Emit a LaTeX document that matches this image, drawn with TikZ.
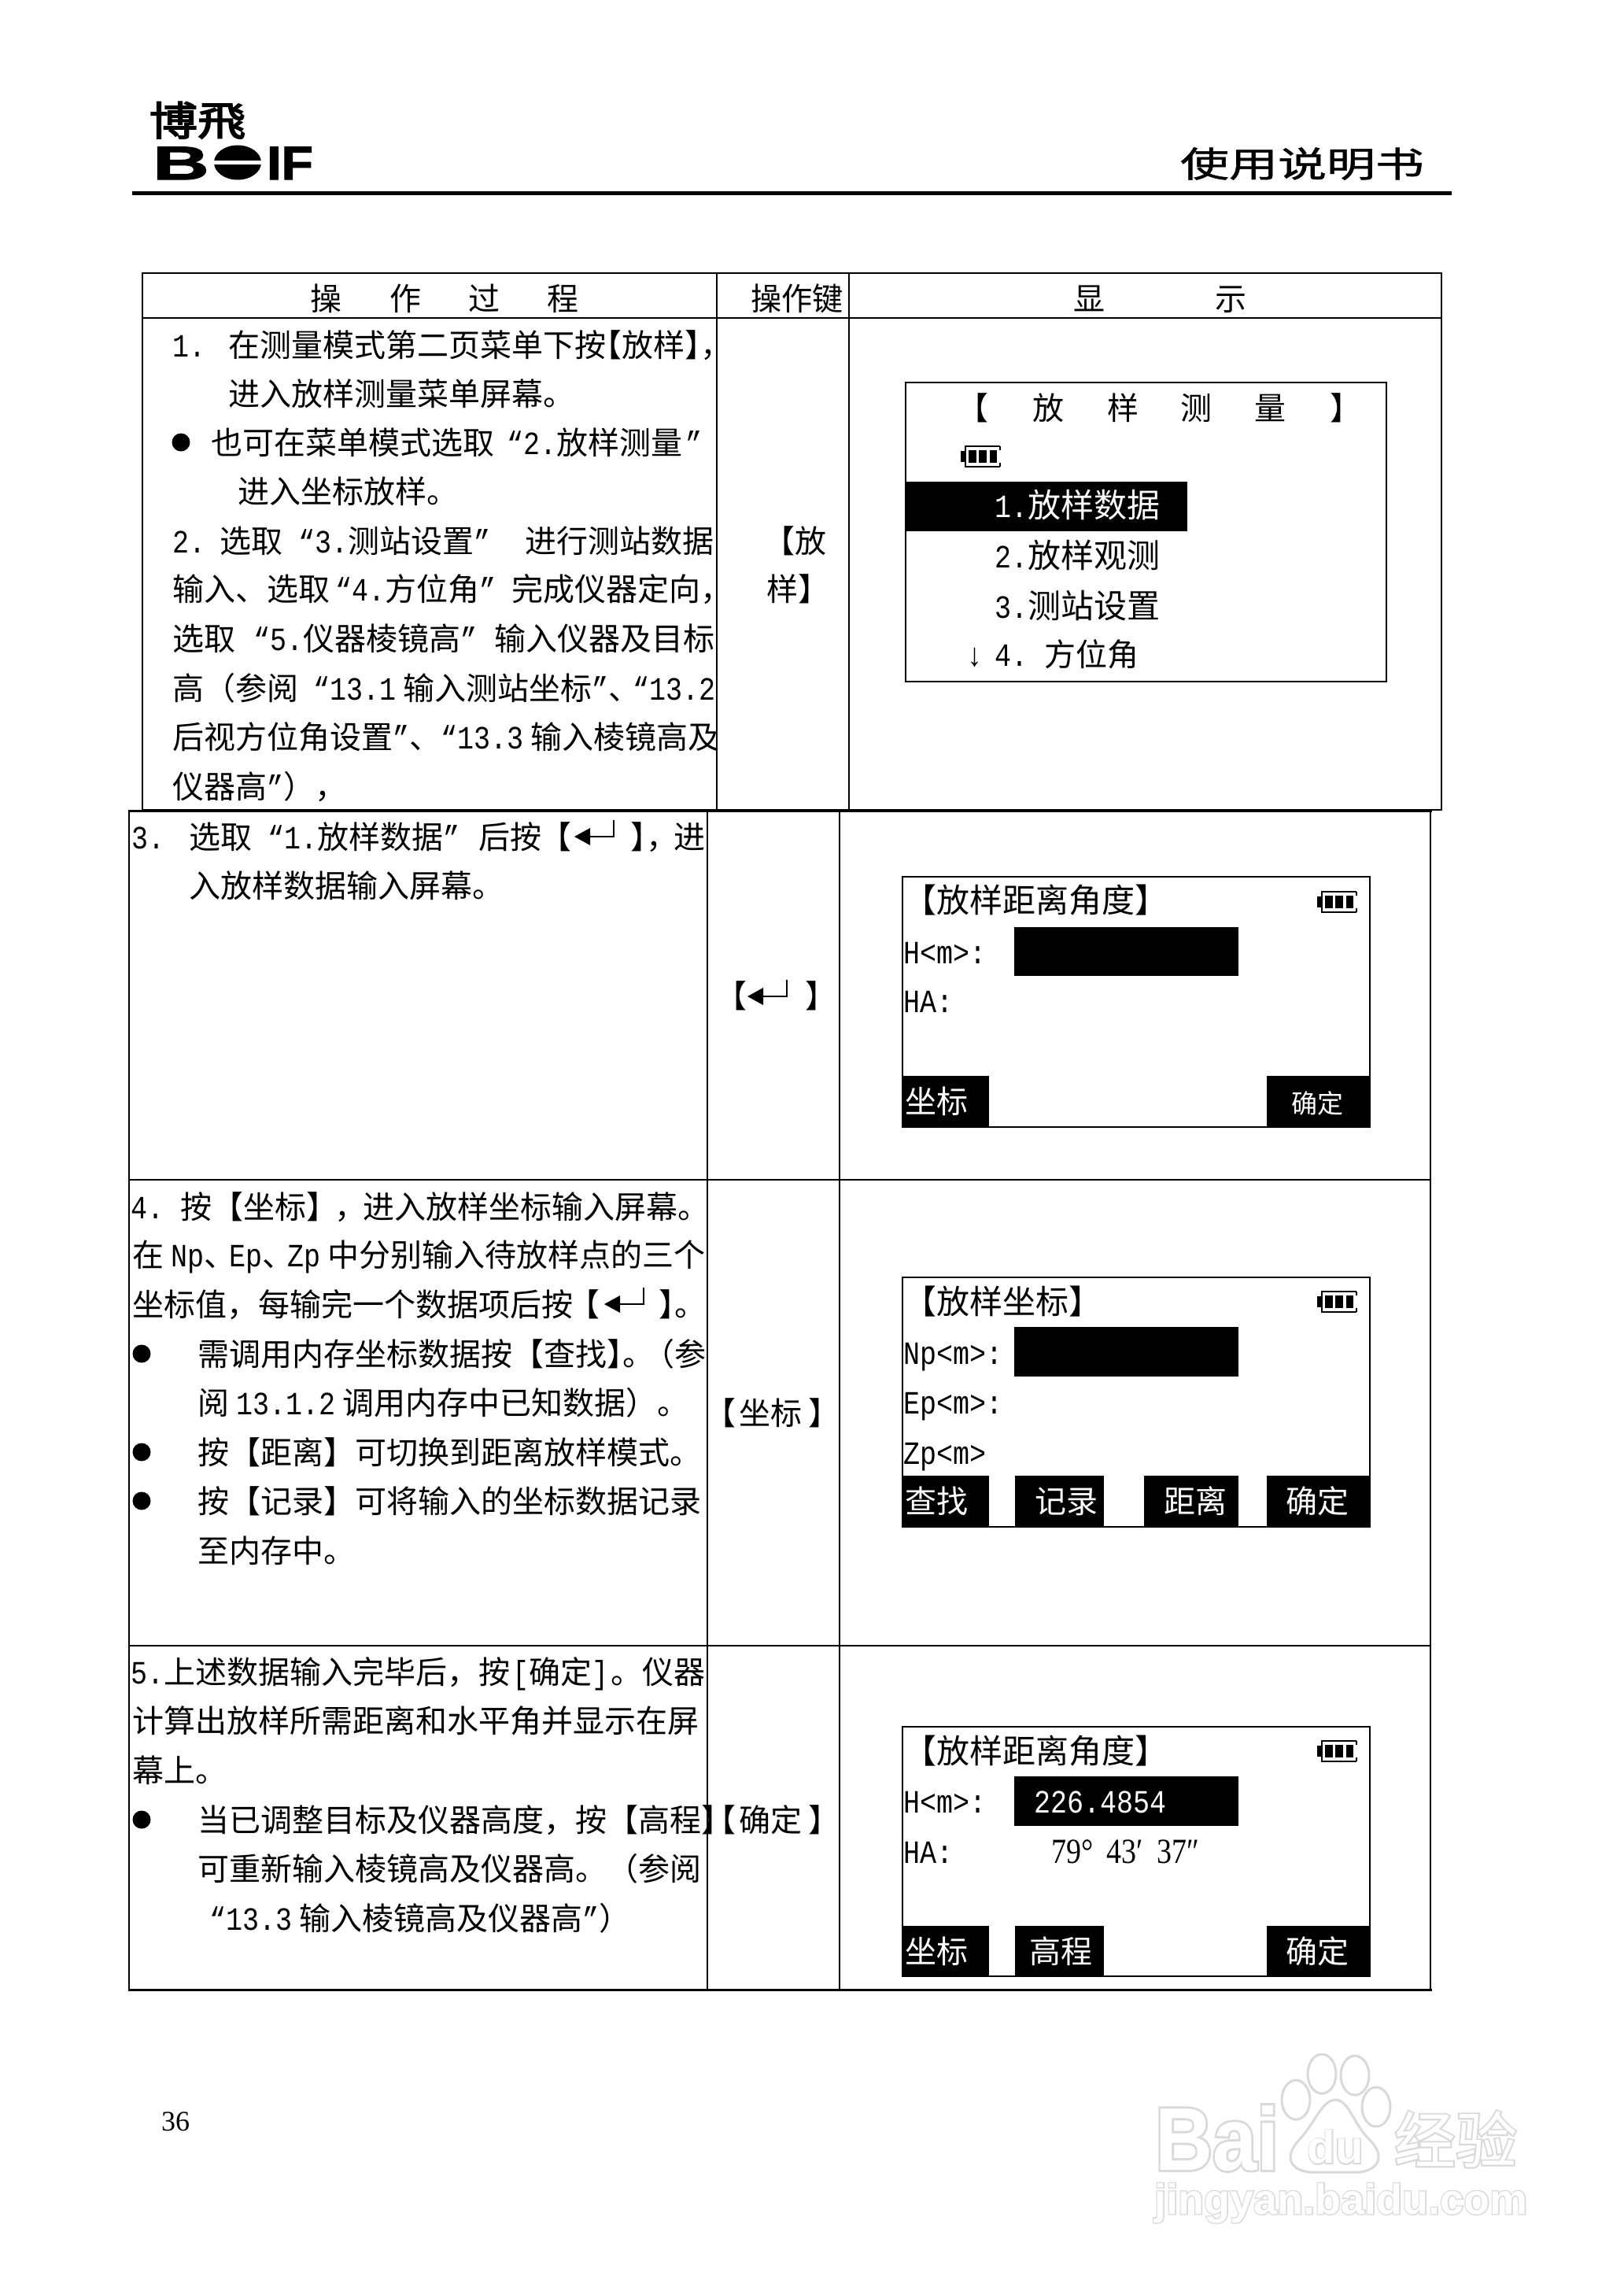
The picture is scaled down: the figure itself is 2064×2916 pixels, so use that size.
\documentclass[tikz,border=0pt]{standalone}
\usepackage{fontspec}
\setmainfont{Noto Sans CJK SC}
\newfontfamily\monofam{Liberation Mono}
\newfontfamily\romanfam{Liberation Serif}
\newfontfamily\sansfam{Liberation Sans}[BoldFeatures={FakeBold=2}]
\newfontfamily\cnheavy{Noto Sans CJK SC}[FakeBold=3]
\newfontfamily\cnmed{Noto Sans CJK SC}[FakeBold=1]
\newfontfamily\wmfam{Liberation Sans}[BoldFeatures={FakeBold=5}]
\newfontfamily\wmcn{Noto Sans CJK SC}[FakeBold=5]
\newfontfamily\wmfamw{Liberation Sans}
\newfontfamily\wmcnw{Noto Sans CJK SC}
\newcommand{\lat}[1]{{\fontsize{35}{35}\selectfont\monofam\scalebox{1}[1.18]{#1}}}
\tikzset{
  cn/.style={anchor=base west,inner sep=0pt,yshift=-15pt,font=\fontsize{40}{40}\selectfont},
  cnc/.style={anchor=base,inner sep=0pt,yshift=-15pt,font=\fontsize{40}{40}\selectfont},
  wcn/.style={cnc,text=white},
  tabline/.style={line width=2.2pt,line cap=rect},
  thickline/.style={line width=3pt,line cap=rect},
  screen/.style={draw,line width=2.2pt,anchor=north west,inner sep=0pt},
  blackbar/.style={fill=black,anchor=north west,inner sep=0pt},
  bull/.style={circle,fill=black,inner sep=0pt,minimum size=23pt},
  wmark/.style={text=black!15},
  wmpad/.style={draw=black!15,fill=white,line width=3pt},
  battery/.pic={
    \fill (0,-7) rectangle (5.5,7);
    \draw[line width=1.6pt] (50,-13) -- (6,-13) -- (6,13) -- (50,13);
    \draw[line width=1.6pt] (50,-13) -- (50,-8) (50,8) -- (50,13);
    \fill (10,-8) rectangle (20,8);
    \fill (23,-8) rectangle (33,8);
    \fill (37,-8) rectangle (46,8);
  },
  enterkey/.pic={
    \fill (0,0) -- (20,-11) -- (20,11) -- cycle;
    \draw[line width=2pt] (20,0) -- (50,0) -- (50,-21);
  }
}
\begin{document}
\begin{tikzpicture}[x=1pt,y=-1pt]
\useasboundingbox (0,0) rectangle (2064,2916);

\node[inner sep=0pt,font=\fontsize{60}{60}\selectfont\cnheavy] (logocn) at (251,153) {\scalebox{1.02}[.85]{博飛}};
\node[anchor=base west,inner sep=0pt,font=\fontsize{60}{60}\selectfont\sansfam\bfseries] (logob) at (194,228) {\scalebox{1.65}[1]{B}};
\fill (302,206.5) ellipse (30 and 22);
\fill[white] (270,203.5) rectangle (334,208.5);
\node[anchor=base west,inner sep=0pt,font=\fontsize{60}{60}\selectfont\sansfam\bfseries] (logoif) at (339,228) {\scalebox{1.1}[1]{IF}};
\node[inner sep=0pt,font=\fontsize{62}{62}\selectfont\cnmed] (manual) at (1655,208) {\scalebox{1}[.72]{使用说明书}};
\draw[line width=5pt] (168,245) -- (1845,245);

\draw[tabline] (181,347) rectangle (1832,1029);
\draw[tabline] (181,404) -- (1832,404);
\draw[tabline] (911,347) -- (911,1029);
\draw[tabline] (1079,347) -- (1079,1029);
\draw[thickline] (164,1030) -- (1818,1030);
\draw[tabline] (164,1030) -- (164,2528);
\draw[tabline] (1818,1030) -- (1818,2528);
\draw[tabline] (899,1030) -- (899,2528);
\draw[tabline] (1067,1030) -- (1067,2528);
\draw[tabline] (164,1499) -- (1818,1499);
\draw[tabline] (164,2091) -- (1818,2091);
\draw[thickline] (164,2528) -- (1818,2528);

\node[cnc] (heada) at (414,379) {操};
\node[cnc] (headb) at (515,379) {作};
\node[cnc] (headc) at (615,379) {过};
\node[cnc] (headd) at (715,379) {程};
\node[cnc] (heade) at (1013,379) {\scalebox{.98}[1]{操作键}};
\node[cnc] (headf) at (1384,379) {显};
\node[cnc] (headg) at (1564,379) {示};

\node[cn] (la) at (219,438) {\lat{1.}};
\node[cn] (lb) at (290,438) {在测量模式第二页菜单下按\hspace{-20pt}【放样】\hspace{-20pt}，};
\node[cn] (lc) at (290,500) {进入放样测量菜单屏幕。};
\node[bull] (bulla) at (230,562) {};
\node[cn] (ld) at (268,562) {也可在菜单模式选取\hspace{16pt}\lat{“2.}放样测量\hspace{4pt}\lat{”}};
\node[cn] (le) at (302,624) {进入坐标放样。};
\node[cn] (lf) at (219,687) {\lat{2.}};
\node[cn] (lg) at (279,687) {选取\hspace{20pt}\lat{“3.}测站设置\lat{”}};
\node[cn] (lh) at (667,687) {进行测站数据};
\node[cn] (li) at (219,748) {输入、选取\hspace{7pt}\lat{“4.}方位角\lat{”}\hspace{20pt}完成仪器定向，};
\node[cn] (lj) at (219,811) {选取\hspace{23pt}\lat{“5.}仪器棱镜高\lat{”}\hspace{22pt}输入仪器及目标};
\node[cn] (lk) at (219,874) {高（参阅\hspace{19pt}\lat{“13.1} 输入测站坐标\lat{”}、\hspace{-9pt}\lat{“13.2}};
\node[cn] (ll) at (219,936) {后视方位角设置\lat{”}、\lat{“13.3} 输入棱镜高及};
\node[cn] (lm) at (219,999) {仪器高\lat{”}），};
\node[cn] (keya) at (970,687) {【放};
\node[cn] (keyb) at (974,748) {样】};

\node[screen,minimum width=611pt,minimum height=380pt] (scra) at (1150,485) {};
\node[cnc] (ta) at (1236,518) {【};
\node[cnc] (tb) at (1332,518) {放};
\node[cnc] (tc) at (1427,518) {样};
\node[cnc] (td) at (1520,518) {测};
\node[cnc] (te) at (1614,518) {量};
\node[cnc] (tf) at (1710,518) {】};
\pic at (1221,580) {battery};
\node[blackbar,minimum width=357pt,minimum height=63pt] (hl) at (1152,612) {};
\node[cn,text=white,font=\fontsize{42}{42}\selectfont] (ma) at (1264,642) {\lat{1.}放样数据};
\node[cn,font=\fontsize{42}{42}\selectfont] (mb) at (1264,706) {\lat{2.}放样观测};
\node[cn,font=\fontsize{42}{42}\selectfont] (mc) at (1264,770) {\lat{3.}测站设置};
\node[cn] (md) at (1228,831) {\lat{↓}};
\node[cn] (me) at (1264,831) {\lat{4.}};
\node[cn] (mf) at (1327,831) {方位角};

\node[cn] (na) at (167,1063) {\lat{3.}};
\node[cn] (nb) at (240,1063) {选取\hspace{20pt}\lat{“1.}放样数据\lat{”}\hspace{24pt}后按};
\node[cn] (nc) at (686,1063) {【};
\pic at (730,1063) {enterkey};
\node[cn] (nd) at (801,1063) {】\hspace{-20pt}，};
\node[cn] (ne) at (856,1063) {进};
\node[cn] (nf) at (240,1125) {入放样数据输入屏幕。};
\node[cn] (keyc) at (909,1265) {【};
\pic at (950,1266) {enterkey};
\node[cn] (keyd) at (1023,1265) {】};

\node[screen,minimum width=594pt,minimum height=318pt] (scrb) at (1146,1113) {};
\node[cn,font=\fontsize{42}{42}\selectfont] (sa) at (1148,1144) {【放样距离角度】};
\pic at (1674,1146) {battery};
\node[cn] (sb) at (1148,1209) {\lat{H<m>:}};
\node[blackbar,minimum width=285pt,minimum height=62pt] (inb) at (1289,1178) {};
\node[cn] (sc) at (1148,1271) {\lat{HA:}};
\node[blackbar,minimum width=111pt,minimum height=64pt] (kba) at (1146,1367) {};
\node[blackbar,minimum width=130pt,minimum height=64pt] (kbb) at (1610,1367) {};
\node[wcn] (sd) at (1190,1399) {坐标};
\node[wcn,font=\fontsize{33}{33}\selectfont] (se) at (1674,1399) {确定};

\node[cn] (pa) at (166,1533) {\lat{4.}};
\node[cn] (pb) at (229,1533) {按【坐标】\hspace{-4pt}，\hspace{-4pt}进入放样坐标输入屏幕。};
\node[cn] (pc) at (168,1594) {在 \lat{Np}、\hspace{-8pt}\lat{Ep}、\hspace{-8pt}\lat{Zp} 中分别输入待放样点的三个};
\node[cn] (pd) at (168,1657) {坐标值，每输完一个数据项后按};
\node[cn] (pe) at (722,1657) {【};
\pic at (768,1657) {enterkey};
\node[cn] (pf) at (837,1657) {】\hspace{-20pt}。};
\node[bull] (bullb) at (180,1720) {};
\node[cn] (pg) at (251,1720) {需调用内存坐标数据按【查找】\hspace{-20pt}。\hspace{-14pt}（参};
\node[cn] (ph) at (251,1782) {阅 \lat{13.1.2} 调用内存中已知数据）。};
\node[bull] (bullc) at (180,1845) {};
\node[cn] (pi) at (251,1845) {按【距离】可切换到距离放样模式。};
\node[bull] (bulld) at (180,1907) {};
\node[cn] (pj) at (251,1907) {按【记录】可将输入的坐标数据记录};
\node[cn] (pk) at (251,1970) {至内存中。};
\node[cn] (keye) at (895,1795) {【\hspace{4pt}坐标\hspace{8pt}】};

\node[screen,minimum width=594pt,minimum height=317pt] (scrc) at (1146,1622) {};
\node[cn,font=\fontsize{42}{42}\selectfont] (ua) at (1148,1654) {【放样坐标】};
\pic at (1674,1654) {battery};
\node[cn] (ub) at (1148,1718) {\lat{Np<m>:}};
\node[blackbar,minimum width=285pt,minimum height=63pt] (inc) at (1289,1686) {};
\node[cn] (uc) at (1148,1781) {\lat{Ep<m>:}};
\node[cn] (ud) at (1148,1845) {\lat{Zp<m>}};
\node[blackbar,minimum width=111pt,minimum height=64pt] (kca) at (1146,1875) {};
\node[blackbar,minimum width=113pt,minimum height=64pt] (kcb) at (1290,1875) {};
\node[blackbar,minimum width=120pt,minimum height=64pt] (kcc) at (1454,1875) {};
\node[blackbar,minimum width=130pt,minimum height=64pt] (kcd) at (1610,1875) {};
\node[wcn] (ue) at (1190,1907) {查找};
\node[wcn] (uf) at (1355,1907) {记录};
\node[wcn] (ug) at (1519,1907) {距离};
\node[wcn] (uh) at (1674,1907) {确定};

\node[cn] (qa) at (166,2124) {\lat{5.}上述数据输入完毕后，按\hspace{3pt}\lat{[}确定\lat{]}\hspace{3pt}。仪器};
\node[cn] (qb) at (168,2186) {计算出放样所需距离和水平角并显示在屏};
\node[cn] (qc) at (168,2249) {幕上。};
\node[bull] (bulle) at (180,2312) {};
\node[cn] (qd) at (251,2312) {当已调整目标及仪器高度，按【高程】\hspace{-20pt}};
\node[cn] (qe) at (251,2374) {可重新输入棱镜高及仪器高。（参阅};
\node[cn] (qf) at (266,2437) {\lat{“13.3} 输入棱镜高及仪器高\lat{”}）};
\node[cn] (keyf) at (915,2312) {\hspace{-20pt}【\hspace{4pt}确定\hspace{8pt}】};

\node[screen,minimum width=594pt,minimum height=317pt] (scrd) at (1146,2193) {};
\node[cn,font=\fontsize{42}{42}\selectfont] (va) at (1148,2225) {【放样距离角度】};
\pic at (1674,2225) {battery};
\node[cn] (vb) at (1148,2288) {\lat{H<m>:}};
\node[blackbar,minimum width=285pt,minimum height=63pt] (ind) at (1289,2257) {};
\node[cn,text=white] (vc) at (1314,2288) {\lat{226.4854}};
\node[cn] (vd) at (1148,2352) {\lat{HA:}};
\node[cn,font=\fontsize{38}{38}\selectfont\romanfam] (ve) at (1336,2352) {\scalebox{1}[1.18]{79°\hspace{8pt} 43′\hspace{8pt} 37″}};
\node[blackbar,minimum width=111pt,minimum height=64pt] (kda) at (1146,2447) {};
\node[blackbar,minimum width=113pt,minimum height=64pt] (kdb) at (1290,2447) {};
\node[blackbar,minimum width=130pt,minimum height=64pt] (kdc) at (1610,2447) {};
\node[wcn] (vf) at (1190,2479) {坐标};
\node[wcn] (vg) at (1348,2479) {高程};
\node[wcn] (vh) at (1674,2479) {确定};

\node[anchor=base west,inner sep=0pt,font=\fontsize{36}{36}\selectfont\romanfam] (pagenum) at (205,2707) {36};

\node[anchor=base west,inner sep=0pt,wmark,font=\fontsize{101}{101}\selectfont\wmfam\bfseries] (wma) at (1468,2757) {\scalebox{1}[1.12]{Bai}};
\node[anchor=base west,inner sep=0pt,text=white,font=\fontsize{101}{101}\selectfont\wmfamw\bfseries] (wmaw) at (1468,2757) {\scalebox{1}[1.12]{Bai}};
\draw[wmpad] (1647,2668) ellipse (18 and 25);
\draw[wmpad] (1680,2635) ellipse (18 and 25);
\draw[wmpad] (1722,2637) ellipse (18 and 25);
\draw[wmpad] (1749,2677) ellipse (18 and 25);
\draw[wmpad] (1697,2668) .. controls (1715,2668) and (1720,2700) .. (1742,2720) .. controls (1765,2745) and (1745,2762) .. (1718,2760) -- (1675,2760) .. controls (1645,2762) and (1628,2745) .. (1650,2720) .. controls (1670,2700) and (1680,2668) .. (1697,2668) -- cycle;
\node[inner sep=0pt,wmark,font=\fontsize{58}{58}\selectfont\wmfam\bfseries] (wmb) at (1697,2728) {du};
\node[inner sep=0pt,text=white,font=\fontsize{58}{58}\selectfont\wmfamw\bfseries] (wmbw) at (1697,2728) {du};
\node[inner sep=0pt,wmark,font=\fontsize{78}{78}\selectfont\wmcn] (wmc) at (1850,2718) {经验};
\node[inner sep=0pt,text=white,font=\fontsize{78}{78}\selectfont\wmcnw] (wmcw) at (1850,2718) {经验};
\node[anchor=base west,inner sep=0pt,wmark,font=\fontsize{54}{54}\selectfont\wmfam\bfseries] (wmd) at (1467,2813) {jingyan.baidu.com};
\node[anchor=base west,inner sep=0pt,text=white,font=\fontsize{54}{54}\selectfont\wmfamw\bfseries] (wmdw) at (1467,2813) {jingyan.baidu.com};
\end{tikzpicture}
\end{document}
